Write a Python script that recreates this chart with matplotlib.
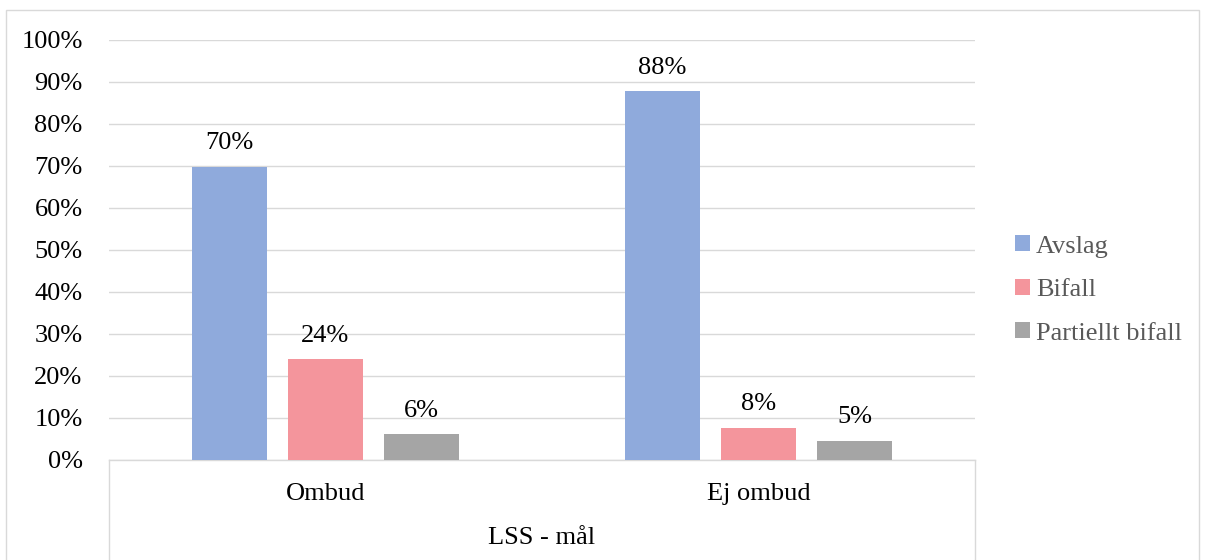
import matplotlib
matplotlib.use("Agg")
import matplotlib.pyplot as plt
from matplotlib.lines import Line2D
from matplotlib.patches import Rectangle
import numpy as np

categories = ["Ombud", "Ej ombud"]
outer_label = "LSS - mål"
series_names = ["Avslag", "Bifall", "Partiellt bifall"]
avslag = [69.8, 87.8]
bifall = [24.0, 7.6]
partiellt = [6.1, 4.6]
series_values = [avslag, bifall, partiellt]
colors = ["#8FAADC", "#F4959C", "#A5A5A5"]
yticks = list(range(0, 101, 10))

W, H = 1206, 560
fig = plt.figure(figsize=(W / 100, H / 100), dpi=100)
plt.rcParams['font.family'] = ['Liberation Serif', 'DejaVu Serif']
FS = 19

def fx(px):
    return px / W

def fy(py):
    return 1 - py / H

left, right, top, bottom = 109, 975, 40, 460
ax = fig.add_axes([fx(left), fy(bottom), fx(right - left), (bottom - top) / H])

n = len(series_names)
bw = 0.173
step = 0.222
x = np.arange(len(categories))
for i, (name, vals, c) in enumerate(zip(series_names, series_values, colors)):
    pos = x + (i - (n - 1) / 2) * step
    ax.bar(pos, vals, width=bw, color=c, label=name, zorder=3)
    for p, v in zip(pos, vals):
        ax.text(p, v + 3.0, f"{round(v):d}%", ha="center", va="bottom",
                fontsize=FS, color="black", zorder=4)

ax.set_xlim(-0.5, len(categories) - 0.5)
ax.set_ylim(0, 100)
ax.set_yticks(yticks)
ax.set_yticklabels([f"{t}%" for t in yticks], fontsize=FS, color="black")
ax.tick_params(axis="y", length=0, pad=19)
ax.set_xticks([])
ax.grid(axis="y", color="#D9D9D9", linewidth=1.0, zorder=0)
for s in ["top", "right", "left"]:
    ax.spines[s].set_visible(False)
ax.spines["bottom"].set_color("#D9D9D9")
ax.spines["bottom"].set_linewidth(1.0)

# multi-level category axis
for cx, cat in zip(x, categories):
    fig.text(fx(left + (cx + 0.5) * (right - left) / len(categories)), fy(494), cat,
             ha="center", va="center", fontsize=FS, color="black")
fig.text(fx((left + right) / 2), fy(538), outer_label, ha="center", va="center",
         fontsize=FS, color="black")
for px in [left, right]:
    fig.add_artist(Line2D([fx(px), fx(px)], [fy(bottom), fy(560)], color="#D9D9D9",
                          linewidth=1.0, transform=fig.transFigure))

# outer chart border
fig.add_artist(Rectangle((fx(6), fy(600)), fx(1199 - 6), (600 - 10) / H,
                         transform=fig.transFigure, fill=False,
                         edgecolor="#D9D9D9", linewidth=1.0))

leg = fig.legend(loc="center left", bbox_to_anchor=(fx(1015), fy(290)),
                 frameon=False, fontsize=FS, handlelength=0.55, handleheight=0.55,
                 handletextpad=0.25, labelspacing=0.8, borderaxespad=0,
                 borderpad=0)
for t in leg.get_texts():
    t.set_color("#595959")

fig.savefig("out.png", dpi=100)
